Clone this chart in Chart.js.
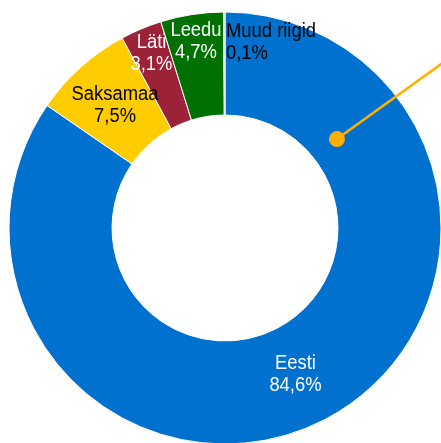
<!DOCTYPE html>
<html>
<head>
<meta charset="utf-8">
<script src="https://cdn.jsdelivr.net/npm/chart.js@4/dist/chart.umd.min.js"></script>
<style>
  html, body { margin: 0; padding: 0; background: #fff; overflow: hidden; }
  #wrap { position: relative; width: 441px; height: 444px; }
</style>
</head>
<body>
<div id="wrap"><canvas id="shareChart"></canvas></div>
<script>
// Data
const countries = ['Eesti', 'Saksamaa', 'Läti', 'Leedu', 'Muud riigid'];
const shares = [84.6, 7.5, 3.1, 4.7, 0.1];
const shareLabels = ['84,6%', '7,5%', '3,1%', '4,7%', '0,1%'];
const sliceColors = ['#0071CE', '#FFCC00', '#9B2237', '#007000', '#BFBFBF'];
const labelColors = ['#ffffff', '#000000', '#ffffff', '#ffffff', '#000000'];

// where each label sits across the ring (0 = inner edge, 1 = outer edge)
const labelDepth = [0.48, 0.5, 0.74, 0.74, 0.7];
const labelAlign = ['center', 'center', 'center', 'center', 'left'];

// Slice labels, drawn inside the ring
const sliceLabels = {
    id: 'sliceLabels',
    afterDatasetsDraw(chart) {
        const ctx = chart.ctx;
        const arcs = chart.getDatasetMeta(0).data;
        const squeeze = 0.92;
        ctx.save();
        ctx.font = "20px 'Liberation Sans', Arial, sans-serif";
        ctx.textBaseline = 'middle';
        arcs.forEach((arc, i) => {
            const p = arc.getProps(['x', 'y', 'startAngle', 'endAngle', 'innerRadius', 'outerRadius'], true);
            let angle = (p.startAngle + p.endAngle) / 2;
            if (i === 0) angle += 0.035; // Eesti label sits a bit further round
            const r = p.innerRadius + (p.outerRadius - p.innerRadius) * labelDepth[i];
            let x = p.x + Math.cos(angle) * r;
            let y = p.y + Math.sin(angle) * r;
            if (labelAlign[i] === 'left') {
                x = p.x + 1;
            }
            ctx.save();
            ctx.scale(squeeze, 1);
            ctx.textAlign = labelAlign[i];
            ctx.fillStyle = labelColors[i];
            ctx.fillText(countries[i], x / squeeze, y - 11);
            ctx.fillText(shareLabels[i], x / squeeze, y + 11);
            ctx.restore();
        });
        ctx.restore();
    }
};

// Callout pointer coming in from the right
const callout = {
    id: 'callout',
    afterDatasetsDraw(chart) {
        const ctx = chart.ctx;
        const arc = chart.getDatasetMeta(0).data[0];
        const p = arc.getProps(['x', 'y', 'outerRadius'], true);
        const ang = Math.atan2(-89, 112);
        const dist = p.outerRadius * 0.662;
        const dx = p.x + Math.cos(ang) * dist;
        const dy = p.y + Math.sin(ang) * dist;
        const slope = -0.72;
        const endX = chart.width + 5;
        const endY = dy + slope * (endX - dx);
        ctx.save();
        ctx.strokeStyle = '#FFB000';
        ctx.fillStyle = '#FFB000';
        ctx.lineWidth = 2.5;
        ctx.beginPath();
        ctx.moveTo(dx, dy);
        ctx.lineTo(endX, endY);
        ctx.stroke();
        ctx.beginPath();
        ctx.arc(dx, dy, 8, 0, Math.PI * 2);
        ctx.fill();
        ctx.restore();
    }
};

const ctx = document.getElementById('shareChart').getContext('2d');
new Chart(ctx, {
    type: 'doughnut',
    data: {
        labels: countries,
        datasets: [{
            data: shares,
            backgroundColor: sliceColors,
            borderColor: '#ffffff',
            borderWidth: 1,
            hoverOffset: 0
        }]
    },
    options: {
        responsive: true,
        maintainAspectRatio: false,
        animation: false,
        radius: 216,
        cutout: '52.3%',
        layout: {
            padding: { left: 9, right: 0, top: 12, bottom: 0 }
        },
        plugins: {
            legend: { display: false },
            tooltip: { enabled: false }
        }
    },
    plugins: [sliceLabels, callout]
});
</script>
</body>
</html>
